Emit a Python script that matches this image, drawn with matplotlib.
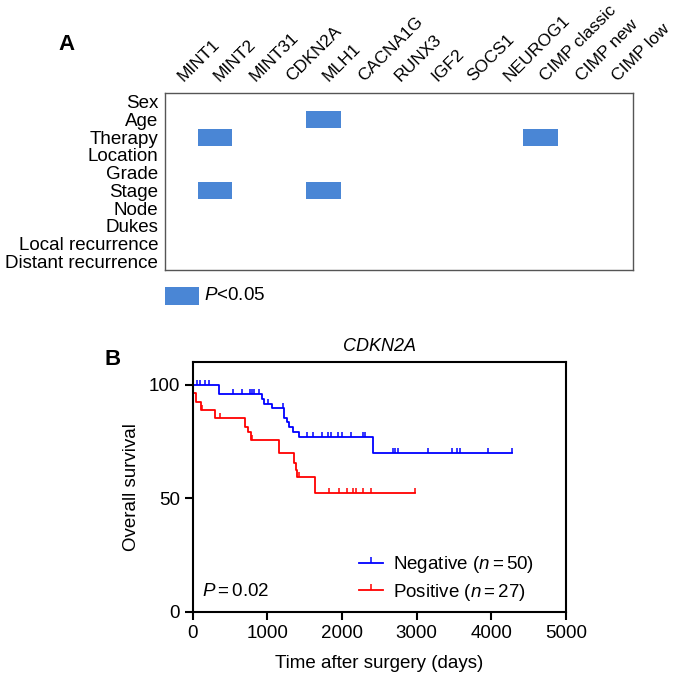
import numpy as np
import matplotlib
matplotlib.use('Agg')
import matplotlib.pyplot as plt
from matplotlib.patches import Rectangle
from matplotlib.lines import Line2D
from matplotlib.transforms import blended_transform_factory, ScaledTranslation

plt.rcParams['font.family'] = ['Liberation Sans', 'DejaVu Sans']
plt.rcParams['mathtext.fontset'] = 'custom'
plt.rcParams['mathtext.rm'] = 'Liberation Sans'
plt.rcParams['mathtext.it'] = 'Liberation Sans:italic'

# ---- panel A data ----
clin_vars = ['Sex', 'Age', 'Therapy', 'Location', 'Grade', 'Stage', 'Node',
             'Dukes', 'Local recurrence', 'Distant recurrence']
markers = ['MINT1', 'MINT2', 'MINT31', 'CDKN2A', 'MLH1', 'CACNA1G', 'RUNX3',
           'IGF2', 'SOCS1', 'NEUROG1', 'CIMP classic', 'CIMP new', 'CIMP low']
# significant (P<0.05) pairs: (clinical variable, marker)
sig_pairs = [('Age', 'MLH1'), ('Therapy', 'MINT2'), ('Therapy', 'CIMP classic'),
             ('Stage', 'MINT2'), ('Stage', 'MLH1')]

# ---- panel B data (Kaplan-Meier, CDKN2A) ----
neg_times = [0, 356, 924, 955, 1058, 1227, 1259, 1290, 1348, 1428, 2411]
neg_surv = [100, 95.9, 93.8, 91.7, 89.6, 85.5, 83.4, 81.3, 79.2, 77.0, 69.9]
neg_end = 4281
neg_censor = [54, 98, 165, 222, 536, 656, 768, 790, 821, 892, 1013, 1205,
              1527, 1616, 1728, 1817, 1849, 1951, 1996, 2117, 2285, 2308,
              2679, 2710, 2754, 3157, 3469, 3536, 3581, 3960, 4281]

pos_times = [0, 8, 50, 110, 300, 700, 745, 777, 1160, 1357, 1384, 1401, 1638]
pos_surv = [100, 96.3, 92.6, 88.9, 85.2, 81.5, 79.3, 75.6, 69.9, 65.6, 62.7, 59.6, 52.5]
pos_end = 2977
pos_censor = [120, 366, 800, 1428, 1830, 1964, 2062, 2151, 2187, 2285, 2384, 2977]

W, H = 676, 675
fig = plt.figure(figsize=(W / 100, H / 100), dpi=100)
blue_box = '#4a86d5'
fs = 13.5

# ---------- panel A ----------
axA = fig.add_axes([165 / W, 1 - 270 / H, 468 / W, 177 / H])
for var, mk in sig_pairs:
    r = clin_vars.index(var)
    c = markers.index(mk)
    axA.add_patch(Rectangle((c - 0.475, r + 0.01), 0.95, 0.98, color=blue_box, lw=0))
axA.set_xlim(-0.373, 12.555)
axA.set_ylim(len(clin_vars), 0)
axA.set_yticks(np.arange(len(clin_vars)) + 0.5)
axA.set_yticklabels(clin_vars, fontsize=fs)
axA.set_xticks([])
axA.tick_params(axis='y', length=0, pad=5)
for s in axA.spines.values():
    s.set_color('#555555')
    s.set_linewidth(1.0)

# rotated marker names above the box
lab_tr = blended_transform_factory(axA.transData, axA.transAxes) + \
    ScaledTranslation(5 / 100, 11 / 100, fig.dpi_scale_trans)
for i, m in enumerate(markers):
    axA.text(i, 1, m, transform=lab_tr, rotation=45, ha='left', va='baseline',
             rotation_mode='anchor', fontsize=12.6, clip_on=False)

fig.text(58 / W, 1 - 50 / H, 'A', fontsize=16, fontweight='bold')

# legend of panel A
fig.patches.append(Rectangle((165 / W, 1 - 305 / H), 34 / W, 18 / H,
                             transform=fig.transFigure, figure=fig,
                             color=blue_box, lw=0))
fig.text(204 / W, 1 - 296 / H, '$P$<0.05', fontsize=fs, va='center')

# ---------- panel B ----------
axB = fig.add_axes([192.7 / W, 1 - 612 / H, 373.3 / W, 250 / H])


def km_plot(ax, times, surv, end, censor, color):
    t = np.append(times, end)
    s = np.append(surv, surv[-1])
    ax.step(t, s, where='post', color=color, lw=1.3)
    idx = np.searchsorted(times, censor, side='right') - 1
    cy = np.array(surv)[idx]
    ax.plot(censor, cy, ls='none', marker=2, markersize=3.5, mew=1.1, color=color)


km_plot(axB, neg_times, neg_surv, neg_end, neg_censor, 'blue')
km_plot(axB, pos_times, pos_surv, pos_end, pos_censor, 'red')

axB.set_xlim(0, 5000)
axB.set_ylim(0, 110)
axB.set_xticks(range(0, 5001, 1000))
axB.set_yticks([0, 50, 100])
axB.tick_params(direction='out', length=6, width=1.5, labelsize=fs, pad=3)
for s in axB.spines.values():
    s.set_linewidth(1.5)
axB.set_title('CDKN2A', style='italic', fontsize=13, pad=8)
axB.set_ylabel('Overall survival', fontsize=fs, labelpad=6)
axB.set_xlabel('Time after surgery (days)', fontsize=fs, labelpad=10)

axB.text(0.025, 0.084, '$P=0.02$', transform=axB.transAxes, fontsize=fs, va='center')

handles = [Line2D([], [], color='blue', lw=1.3, marker=2, markersize=4, mew=1.1),
           Line2D([], [], color='red', lw=1.3, marker=2, markersize=4, mew=1.1)]
axB.legend(handles, ['Negative ($n=50$)', 'Positive ($n=27$)'], loc='lower left',
           bbox_to_anchor=(0.42, 0.0), frameon=False, fontsize=fs,
           handlelength=1.3, handletextpad=0.5, labelspacing=0.35, borderpad=0)

fig.text(105 / W, 1 - 365 / H, 'B', fontsize=16, fontweight='bold')

fig.savefig('out.png', dpi=100)
